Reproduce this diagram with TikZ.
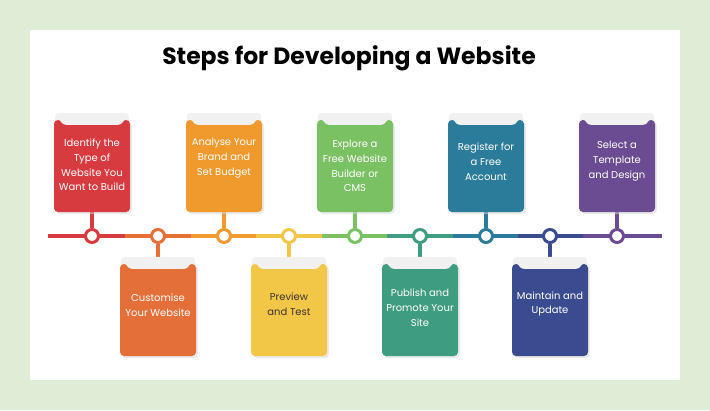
\documentclass[tikz,border=0pt]{standalone}
\usepackage{fontspec}
\setmainfont{Poppins}
\usetikzlibrary{positioning, shadows, backgrounds}

\definecolor{pagegreen}{HTML}{DFEDD6}
\definecolor{tabgrey}{HTML}{F1F1F1}
\definecolor{darktext}{HTML}{3A3530}
\definecolor{cA}{HTML}{D73B40}
\definecolor{cB}{HTML}{E56F38}
\definecolor{cC}{HTML}{F0992C}
\definecolor{cD}{HTML}{F2C646}
\definecolor{cE}{HTML}{79C162}
\definecolor{cF}{HTML}{3E9C80}
\definecolor{cG}{HTML}{2B7B9B}
\definecolor{cH}{HTML}{3B4B90}
\definecolor{cI}{HTML}{6B4B92}

\begin{document}
\begin{tikzpicture}[x=1pt, y=-1pt,
    card/.style={rectangle, rounded corners=4pt, minimum width=76pt, minimum height=92pt, inner sep=0pt, drop shadow={shadow xshift=2pt, shadow yshift=-2pt, fill=black!16}},
    cardtext/.style={align=center, font=\fontsize{10}{14.8}\selectfont, inner sep=0pt},
    dot/.style={circle, draw, line width=3pt, fill=white, minimum size=13pt, inner sep=0pt},
    seg/.style={line width=4pt},
    stem/.style={line width=3.5pt},
    tab/.style={fill=tabgrey, rounded corners=4pt}
]

    % Page
    \begin{pgfonlayer}{background}
        \fill[pagegreen] (0,0) rectangle (710,410);
        \fill[white] (30,30) rectangle (680,380);
    \end{pgfonlayer}

    % Title
    \node[font=\fontsize{23.5}{27}\selectfont\bfseries] (title) at (349,58) {Steps for Developing a Website};

    % Steps
    \foreach \i/\x/\yy/\ty/\col/\tc/\txt in {
        1/92/166/165/cA/white/{Identify the\\Type of\\Website You\\Want to Build},
        2/158/310/305/cB/white/{Customise\\Your Website},
        3/224/166/158/cC/white/{Analyse Your\\Brand and\\Set Budget},
        4/289/310/304/cD/darktext/{Preview\\and Test},
        5/355/166/166/cE/white/{Explore a\\Free Website\\Builder or\\CMS},
        6/420/310/308/cF/white/{Publish and\\Promote Your\\Site},
        7/486/166/162/cG/white/{Register for\\a Free\\Account},
        8/550/310/304/cH/white/{Maintain and\\Update},
        9/617/166/161/cI/white/{Select a\\Template\\and Design}}
    {
        \node[card, fill=\col] (card\i) at (\x,\yy) {};
        \fill[tabgrey] ([xshift=4pt]card\i.north west)
            .. controls ([xshift=8pt]card\i.north west) and ([xshift=7pt,yshift=-5pt]card\i.north west) .. ([xshift=12pt,yshift=-5pt]card\i.north west)
            -- ([xshift=-12pt,yshift=-5pt]card\i.north east)
            .. controls ([xshift=-7pt,yshift=-5pt]card\i.north east) and ([xshift=-8pt]card\i.north east) .. ([xshift=-4pt]card\i.north east)
            -- cycle;
        \node[cardtext, text=\tc] (lbl\i) at (\x,\ty) {\txt};
        \node[dot, draw=\col] (dot\i) at (\x,236) {};
        \begin{pgfonlayer}{background}
            \draw[stem, \col] (card\i) -- (dot\i);
            \fill[tab] ([xshift=1pt,yshift=7pt]card\i.north west) rectangle ([xshift=-1pt,yshift=-6pt]card\i.north east);
        \end{pgfonlayer}
    }

    % Timeline
    \coordinate (tl0) at (48,236);
    \coordinate (tl9) at (662,236);
    \foreach \i/\m in {1/125, 2/191, 3/256, 4/322, 5/387, 6/453, 7/518, 8/583}
        \coordinate (tl\i) at (\m,236);
    \begin{pgfonlayer}{background}
        \foreach \i/\j/\col in {1/0/cA, 2/1/cB, 3/2/cC, 4/3/cD, 5/4/cE, 6/5/cF, 7/6/cG, 8/7/cH, 9/8/cI}
            \draw[seg, \col] (tl\j) -- (tl\i);
    \end{pgfonlayer}

\end{tikzpicture}
\end{document}
